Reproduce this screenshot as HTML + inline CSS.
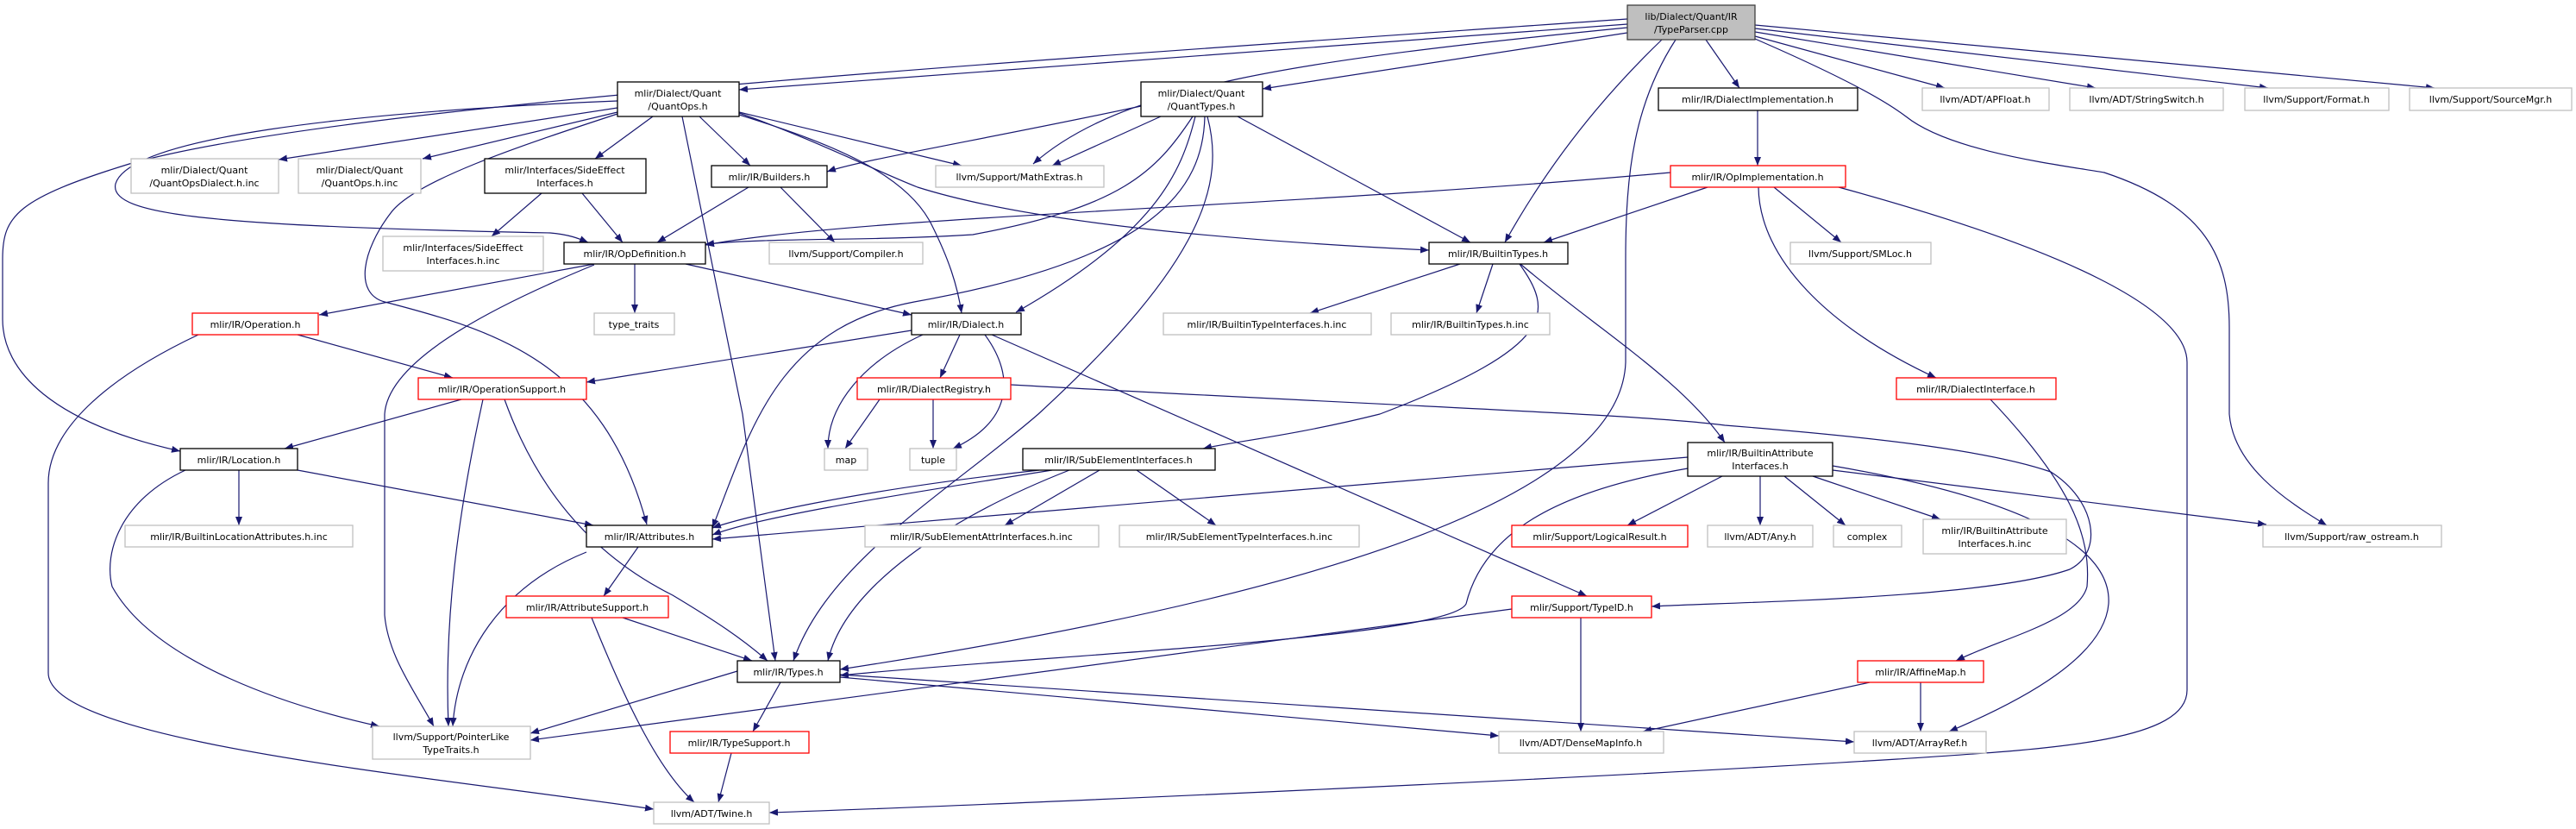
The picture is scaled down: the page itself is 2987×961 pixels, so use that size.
<!DOCTYPE html>
<html><head><meta charset="utf-8"><style>
html,body{margin:0;padding:0;background:#fff;}
svg{display:block;}
text{font-family:"DejaVu Sans","Liberation Sans",sans-serif;font-size:11px;fill:#000;text-anchor:middle;}
.b{fill:#fff;stroke:#000;stroke-width:1.3}
.g{fill:#fff;stroke:#bfbfbf;stroke-width:1.3}
.r{fill:#fff;stroke:#ff0000;stroke-width:1.3}
.t{fill:#bfbfbf;stroke:#404040;stroke-width:1.3}
path.e{fill:none;stroke:#191970;stroke-width:1.2;marker-end:url(#a)}
</style></head><body>
<svg width="2987" height="961" viewBox="0 0 2987 961" xmlns="http://www.w3.org/2000/svg">
<defs><marker id="a" markerUnits="userSpaceOnUse" markerWidth="11" markerHeight="8" refX="10" refY="4" orient="auto"><path d="M0,0 L10,4 L0,8 z" fill="#191970"/></marker></defs>

<path class="e" d="M1887,28 L857,104"/>
<path class="e" d="M1887,22 C1200,70 400,120 150,190 C20,230 3,250 3,300 L3,370 C3,430 60,490 209,523"/>
<path class="e" d="M1887,38 L1464,103"/>
<path class="e" d="M1887,32 C1500,70 1300,100 1198,190"/>
<path class="e" d="M1927,46 C1850,120 1790,200 1745,281"/>
<path class="e" d="M1943,46 C1895,120 1885,200 1885,300 L1885,420 C1880,560 1600,680 974,776"/>
<path class="e" d="M1978,46 L2017,102"/>
<path class="e" d="M2035,42 L2255,102"/>
<path class="e" d="M2035,37 L2430,102"/>
<path class="e" d="M2035,33 L2630,102"/>
<path class="e" d="M2035,29 L2823,102"/>
<path class="e" d="M2035,45 C2150,95 2190,120 2210,135 C2260,175 2380,190 2440,200 C2560,240 2585,300 2585,380 L2585,480 C2590,540 2650,580 2698,609"/>
<path class="e" d="M2038,128 L2038,192"/>
<path class="e" d="M1937,200 C1500,240 1000,250 818,284"/>
<path class="e" d="M1980,217 L1790,281"/>
<path class="e" d="M2057,217 L2135,281"/>
<path class="e" d="M2039,217 C2040,300 2120,380 2245,438"/>
<path class="e" d="M2132,217 C2400,290 2536,360 2536,420 L2536,800 C2536,860 2380,868 2200,880 C1800,905 1100,935 892,942"/>
<path class="e" d="M716,125 L323,185"/>
<path class="e" d="M716,130 L490,184"/>
<path class="e" d="M757,135 L690,184"/>
<path class="e" d="M811,135 L870,192"/>
<path class="e" d="M716,117 C400,130 150,160 134,213 C125,250 250,262 638,270 C660,272 670,276 682,281"/>
<path class="e" d="M791,135 L861,480 L899,766"/>
<path class="e" d="M716,132 C600,170 480,210 453,247 C420,290 410,340 446,350 C574,383 700,420 750,608"/>
<path class="e" d="M857,130 L1115,192"/>
<path class="e" d="M857,133 C960,165 1050,200 1080,260 C1100,300 1110,330 1115,363"/>
<path class="e" d="M857,131 C940,160 1020,200 1064,217 C1200,260 1450,280 1657,290"/>
<path class="e" d="M1323,123 C1150,160 1000,185 959,199"/>
<path class="e" d="M1346,135 L1220,192"/>
<path class="e" d="M1383,135 C1340,200 1300,240 1128,272 C1000,280 900,275 818,283"/>
<path class="e" d="M1386,135 C1370,200 1340,270 1178,362"/>
<path class="e" d="M1397,135 C1395,220 1340,300 1060,350 C900,380 870,500 826,612"/>
<path class="e" d="M1400,135 C1420,210 1400,300 1204,480 C1100,570 960,650 920,766"/>
<path class="e" d="M1435,135 L1705,281"/>
<path class="e" d="M628,224 L570,274"/>
<path class="e" d="M675,224 L722,281"/>
<path class="e" d="M868,217 L762,281"/>
<path class="e" d="M905,217 L968,281"/>
<path class="e" d="M689,306 L370,365"/>
<path class="e" d="M736,306 L736,363"/>
<path class="e" d="M795,306 L1057,365"/>
<path class="e" d="M689,307 C560,360 450,420 446,480 L446,713 C450,760 480,800 503,842"/>
<path class="e" d="M345,388 L525,438"/>
<path class="e" d="M230,388 C120,440 56,500 56,560 L56,780 C56,860 500,900 758,938"/>
<path class="e" d="M1057,383 L680,443"/>
<path class="e" d="M1113,388 L1090,438"/>
<path class="e" d="M1070,388 C1000,420 960,470 960,520"/>
<path class="e" d="M1142,388 C1180,440 1170,490 1105,520"/>
<path class="e" d="M1150,388 L1840,691"/>
<path class="e" d="M1693,306 L1519,363"/>
<path class="e" d="M1731,306 L1712,363"/>
<path class="e" d="M1762,306 C1800,360 1810,400 1600,480 C1500,505 1430,512 1395,520"/>
<path class="e" d="M1763,306 C1850,380 1950,440 2000,513"/>
<path class="e" d="M1020,463 L980,520"/>
<path class="e" d="M1082,463 L1082,520"/>
<path class="e" d="M1172,446 C1600,470 1900,480 2000,493 C2150,505 2300,520 2378,547 C2430,580 2440,640 2400,660 C2300,695 2000,698 1915,703"/>
<path class="e" d="M1220,545 C1000,580 880,600 826,620"/>
<path class="e" d="M1205,545 C980,570 860,600 826,612"/>
<path class="e" d="M1240,545 C1100,600 980,680 960,766"/>
<path class="e" d="M1275,545 L1165,609"/>
<path class="e" d="M1318,545 L1410,609"/>
<path class="e" d="M1957,530 L826,625"/>
<path class="e" d="M1957,543 C1800,570 1720,620 1700,700 C1680,740 1200,760 974,783"/>
<path class="e" d="M1997,552 L1887,609"/>
<path class="e" d="M2041,552 L2041,609"/>
<path class="e" d="M2069,552 L2140,609"/>
<path class="e" d="M2102,552 L2250,602"/>
<path class="e" d="M2125,545 L2628,608"/>
<path class="e" d="M2125,540 C2300,570 2450,620 2445,700 C2440,760 2350,810 2260,848"/>
<path class="e" d="M2308,463 C2400,560 2425,620 2420,680 C2410,720 2320,740 2268,766"/>
<path class="e" d="M740,634 L700,691"/>
<path class="e" d="M680,640 C580,680 530,760 525,842"/>
<path class="e" d="M722,716 L872,766"/>
<path class="e" d="M686,716 C720,800 760,890 805,930"/>
<path class="e" d="M535,463 L330,520"/>
<path class="e" d="M560,463 C530,600 515,720 520,842"/>
<path class="e" d="M585,463 C620,560 680,640 780,690 C830,720 860,740 890,766"/>
<path class="e" d="M277,545 L277,609"/>
<path class="e" d="M345,545 L688,609"/>
<path class="e" d="M215,545 C140,580 120,640 130,680 C180,770 340,820 440,842"/>
<path class="e" d="M855,778 L615,850"/>
<path class="e" d="M905,791 L873,848"/>
<path class="e" d="M974,785 L1738,853"/>
<path class="e" d="M974,782 L2150,860"/>
<path class="e" d="M1753,706 L615,858"/>
<path class="e" d="M1833,716 L1833,848"/>
<path class="e" d="M2168,791 L1905,848"/>
<path class="e" d="M2227,791 L2227,848"/>
<path class="e" d="M848,873 L833,930"/>

<rect class="t" x="1887" y="6" width="148" height="40"/><text x="1961" y="23">lib/Dialect/Quant/IR</text><text x="1961" y="38">/TypeParser.cpp</text>
<rect class="b" x="716" y="95" width="141" height="40"/><text x="786" y="112">mlir/Dialect/Quant</text><text x="786" y="127">/QuantOps.h</text>
<rect class="b" x="1323" y="95" width="141" height="40"/><text x="1393" y="112">mlir/Dialect/Quant</text><text x="1393" y="127">/QuantTypes.h</text>
<rect class="b" x="1923" y="102" width="231" height="26"/><text x="2038" y="119">mlir/IR/DialectImplementation.h</text>
<rect class="g" x="2229" y="102" width="147" height="26"/><text x="2302" y="119">llvm/ADT/APFloat.h</text>
<rect class="g" x="2400" y="102" width="178" height="26"/><text x="2489" y="119">llvm/ADT/StringSwitch.h</text>
<rect class="g" x="2603" y="102" width="167" height="26"/><text x="2686" y="119">llvm/Support/Format.h</text>
<rect class="g" x="2794" y="102" width="188" height="26"/><text x="2888" y="119">llvm/Support/SourceMgr.h</text>
<rect class="g" x="152" y="184" width="171" height="40"/><text x="237" y="201">mlir/Dialect/Quant</text><text x="237" y="216">/QuantOpsDialect.h.inc</text>
<rect class="g" x="346" y="184" width="142" height="40"/><text x="417" y="201">mlir/Dialect/Quant</text><text x="417" y="216">/QuantOps.h.inc</text>
<rect class="b" x="562" y="184" width="187" height="40"/><text x="655" y="201">mlir/Interfaces/SideEffect</text><text x="655" y="216">Interfaces.h</text>
<rect class="b" x="825" y="192" width="134" height="25"/><text x="892" y="209">mlir/IR/Builders.h</text>
<rect class="g" x="1085" y="192" width="195" height="25"/><text x="1182" y="209">llvm/Support/MathExtras.h</text>
<rect class="r" x="1937" y="192" width="203" height="25"/><text x="2038" y="209">mlir/IR/OpImplementation.h</text>
<rect class="g" x="444" y="274" width="186" height="40"/><text x="537" y="291">mlir/Interfaces/SideEffect</text><text x="537" y="306">Interfaces.h.inc</text>
<rect class="b" x="654" y="281" width="164" height="25"/><text x="736" y="298">mlir/IR/OpDefinition.h</text>
<rect class="g" x="892" y="281" width="178" height="25"/><text x="981" y="298">llvm/Support/Compiler.h</text>
<rect class="b" x="1657" y="281" width="161" height="25"/><text x="1737" y="298">mlir/IR/BuiltinTypes.h</text>
<rect class="g" x="2076" y="281" width="163" height="25"/><text x="2157" y="298">llvm/Support/SMLoc.h</text>
<rect class="r" x="223" y="363" width="146" height="25"/><text x="296" y="380">mlir/IR/Operation.h</text>
<rect class="g" x="689" y="363" width="93" height="25"/><text x="735" y="380">type_traits</text>
<rect class="b" x="1057" y="363" width="127" height="25"/><text x="1120" y="380">mlir/IR/Dialect.h</text>
<rect class="g" x="1349" y="363" width="241" height="25"/><text x="1469" y="380">mlir/IR/BuiltinTypeInterfaces.h.inc</text>
<rect class="g" x="1613" y="363" width="184" height="25"/><text x="1705" y="380">mlir/IR/BuiltinTypes.h.inc</text>
<rect class="r" x="485" y="438" width="195" height="25"/><text x="582" y="455">mlir/IR/OperationSupport.h</text>
<rect class="r" x="994" y="438" width="178" height="25"/><text x="1083" y="455">mlir/IR/DialectRegistry.h</text>
<rect class="r" x="2199" y="438" width="185" height="25"/><text x="2291" y="455">mlir/IR/DialectInterface.h</text>
<rect class="b" x="209" y="520" width="136" height="25"/><text x="277" y="537">mlir/IR/Location.h</text>
<rect class="g" x="956" y="520" width="50" height="25"/><text x="981" y="537">map</text>
<rect class="g" x="1055" y="520" width="54" height="25"/><text x="1082" y="537">tuple</text>
<rect class="b" x="1186" y="520" width="223" height="25"/><text x="1297" y="537">mlir/IR/SubElementInterfaces.h</text>
<rect class="b" x="1957" y="513" width="168" height="39"/><text x="2041" y="529">mlir/IR/BuiltinAttribute</text><text x="2041" y="544">Interfaces.h</text>
<rect class="g" x="145" y="609" width="264" height="25"/><text x="277" y="626">mlir/IR/BuiltinLocationAttributes.h.inc</text>
<rect class="b" x="680" y="609" width="146" height="25"/><text x="753" y="626">mlir/IR/Attributes.h</text>
<rect class="g" x="1003" y="609" width="271" height="25"/><text x="1138" y="626">mlir/IR/SubElementAttrInterfaces.h.inc</text>
<rect class="g" x="1298" y="609" width="278" height="25"/><text x="1437" y="626">mlir/IR/SubElementTypeInterfaces.h.inc</text>
<rect class="r" x="1753" y="609" width="204" height="25"/><text x="1855" y="626">mlir/Support/LogicalResult.h</text>
<rect class="g" x="1980" y="609" width="122" height="25"/><text x="2041" y="626">llvm/ADT/Any.h</text>
<rect class="g" x="2126" y="609" width="79" height="25"/><text x="2165" y="626">complex</text>
<rect class="g" x="2230" y="602" width="166" height="40"/><text x="2313" y="619">mlir/IR/BuiltinAttribute</text><text x="2313" y="634">Interfaces.h.inc</text>
<rect class="g" x="2624" y="609" width="207" height="25"/><text x="2727" y="626">llvm/Support/raw_ostream.h</text>
<rect class="r" x="587" y="691" width="188" height="25"/><text x="681" y="708">mlir/IR/AttributeSupport.h</text>
<rect class="r" x="1753" y="691" width="162" height="25"/><text x="1834" y="708">mlir/Support/TypeID.h</text>
<rect class="b" x="855" y="766" width="119" height="25"/><text x="914" y="783">mlir/IR/Types.h</text>
<rect class="r" x="2154" y="766" width="146" height="25"/><text x="2227" y="783">mlir/IR/AffineMap.h</text>
<rect class="g" x="432" y="842" width="183" height="38"/><text x="523" y="858">llvm/Support/PointerLike</text><text x="523" y="873">TypeTraits.h</text>
<rect class="r" x="777" y="848" width="161" height="25"/><text x="857" y="865">mlir/IR/TypeSupport.h</text>
<rect class="g" x="1738" y="848" width="191" height="25"/><text x="1833" y="865">llvm/ADT/DenseMapInfo.h</text>
<rect class="g" x="2150" y="848" width="153" height="25"/><text x="2226" y="865">llvm/ADT/ArrayRef.h</text>
<rect class="g" x="758" y="930" width="134" height="25"/><text x="825" y="947">llvm/ADT/Twine.h</text>
</svg>
</body></html>
